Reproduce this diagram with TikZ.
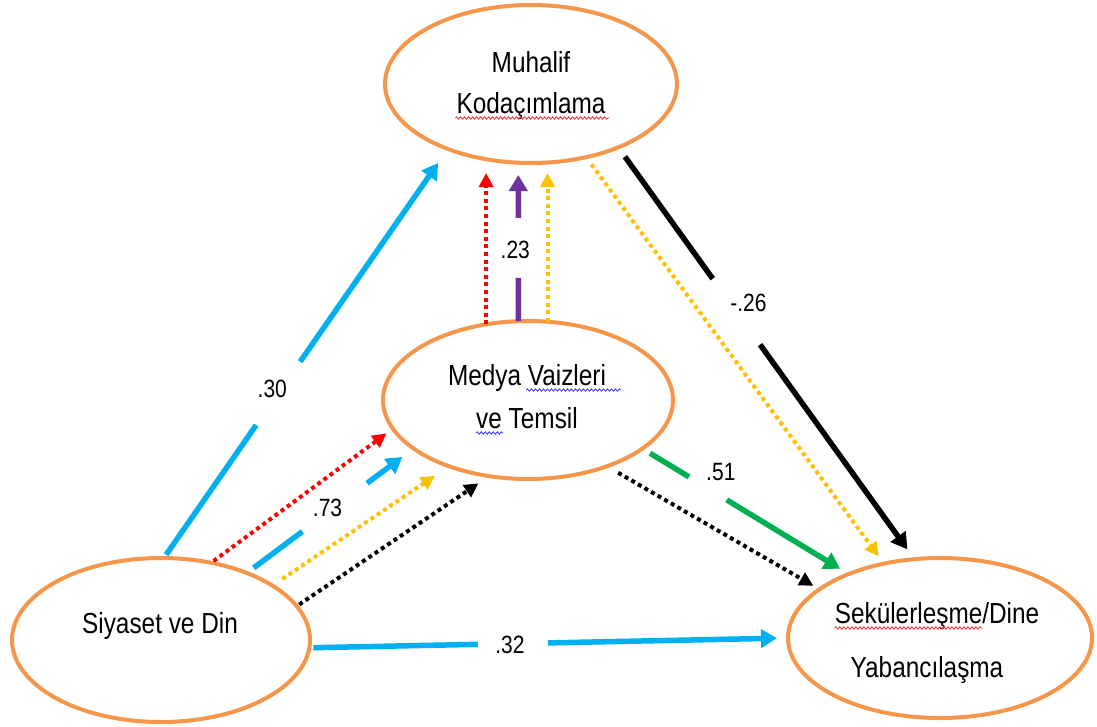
\documentclass[tikz,border=0pt]{standalone}
\usepackage{fontspec}
\setmainfont{Liberation Sans}[FakeStretch=0.84]
\usetikzlibrary{arrows.meta,calc,shapes.geometric,decorations.pathmorphing}
\definecolor{ellorange}{RGB}{245,150,75}
\definecolor{pathblue}{RGB}{0,176,240}
\definecolor{pathred}{RGB}{255,0,0}
\definecolor{pathyellow}{RGB}{255,192,0}
\definecolor{pathgreen}{RGB}{0,176,80}
\definecolor{pathpurple}{RGB}{112,48,160}
\definecolor{spellred}{RGB}{235,40,40}
\definecolor{spellblue}{RGB}{60,60,235}

\begin{document}
\begin{tikzpicture}[x=1pt,y=-1pt,
  construct/.style={draw=ellorange,line width=4pt,ellipse,inner sep=0pt,outer sep=0pt},
  txt/.style={inner sep=0pt,anchor=base,font=\fontsize{29}{34}\selectfont},
  coef/.style={inner sep=0pt,font=\fontsize{25}{30}\selectfont},
  solidpath/.style={line width=5.5pt},
  dotpath/.style={line width=4pt,dash pattern=on 4pt off 3.6pt},
  bigtip/.style={-{Triangle[length=16pt,width=18pt]}},
  smalltip/.style={-{Triangle[length=14pt,width=14pt]}},
  squig/.style={line width=0.8pt,decorate,decoration={snake,segment length=4pt,amplitude=1.2pt}}
]
\fill[white] (0,0) rectangle (1097,726);
\useasboundingbox (0,0) rectangle (1097,726);

% constructs
\node[construct,minimum width=292pt,minimum height=158pt] (muh) at (531,84) {};
\node[construct,minimum width=290pt,minimum height=158pt] (med) at (528,400) {};
\node[construct,minimum width=298pt,minimum height=164pt] (siy) at (161,640) {};
\node[construct,minimum width=304pt,minimum height=160pt] (sek) at (940,638) {};

% construct names
\node[txt] (muh1) at (531,72) {Muhalif};
\node[txt] (muh2) at (531,113) {Kodaçımlama};
\node[txt] (med1) at (527,385) {Medya Vaizleri};
\node[txt] (med2) at (527,428) {ve Temsil};
\node[txt] (siy1) at (160,633) {Siyaset ve Din};
\node[txt] (sek1) at (937,623) {Sekülerleşme/Dine};
\node[txt] (sek2) at (927,677) {Yabancılaşma};

% spelling marks under words
\draw[squig,spellred] ($(muh2.base west)+(-1,5)$) -- ($(muh2.base east)+(4,5)$);
\draw[squig,spellblue] ($(med1.base east)+(-80,5)$) -- ($(med1.base east)+(15,5)$);
\draw[squig,spellblue] ($(med2.base west)+(0,5)$) -- ($(med2.base west)+(27,5)$);
\draw[squig,spellred] ($(sek1.base west)+(0,5)$) -- ($(sek1.base west)+(148,5)$);

% end points on the construct borders
\coordinate (a1) at (siy.88);     \coordinate (b1) at (muh.-142.2);
\coordinate (a2) at (siy.57);     \coordinate (b2) at (med.192.2);
\coordinate (a3) at (siy.38.7);   \coordinate (b3) at (med.203.6);
\coordinate (a4) at (siy.26.2);   \coordinate (b4) at (med.220.6);
\coordinate (a5) at (siy.14.1);   \coordinate (b5) at (med.243.4);
\coordinate (a6) at (med.119.2);  \coordinate (b6) at (a6 |- muh.south);
\coordinate (a7) at (med.97.2);   \coordinate (b7) at (a7 |- muh.south);
\coordinate (a8) at (med.76.4);   \coordinate (b8) at (a8 |- muh.south);
\coordinate (a9) at (muh.-36.5);  \coordinate (b9) at (sek.108.2);
\coordinate (a10) at (muh.-53.9); \coordinate (b10) at (sek.127.9);
\coordinate (a11) at (med.-23.5); \coordinate (b11) at (sek.145);
\coordinate (a12) at (med.-40.1); \coordinate (b12) at (sek.158.1);
\coordinate (a13) at (siy.-3);    \coordinate (b13) at (sek.180);

% Siyaset ve Din -> Muhalif Kodacimlama (.30)
\draw[solidpath,pathblue,shorten <=4pt] (a1) -- ($(a1)!0.325!(b1)$);
\draw[solidpath,pathblue,bigtip,shorten >=17pt] ($(a1)!0.48!(b1)$) -- (b1);
\node[coef] (c1) at ($(a1)!0.403!(b1)+(-6,-4)$) {.30};

% Siyaset ve Din -> Medya Vaizleri (.73)
\draw[solidpath,pathblue,shorten <=8.6pt] (a3) -- ($(a3)!0.333!(b3)$);
\draw[solidpath,pathblue,bigtip,shorten >=14pt] ($(a3)!0.721!(b3)$) -- (b3);
\node[coef] (c3) at ($(a3)!0.496!(b3)+(-2,-3)$) {.73};

% Medya Vaizleri -> Muhalif Kodacimlama (.23)
\draw[solidpath,pathpurple] (a7) -- ($(a7)!0.274!(b7)$);
\draw[solidpath,pathpurple,bigtip,shorten >=12pt] ($(a7)!0.653!(b7)$) -- (b7);
\node[coef] (c7) at ($(a7)!0.451!(b7)+(-3,0)$) {.23};

% Muhalif Kodacimlama -> Sekulerlesme (-.26)
\draw[solidpath,black,shorten <=11.5pt] (a9) -- ($(a9)!0.319!(b9)$);
\draw[solidpath,black,bigtip,shorten >=12pt] ($(a9)!0.479!(b9)$) -- (b9);
\node[coef] (c9) at ($(a9)!0.399!(b9)+(12,-9)$) {-.26};

% Medya Vaizleri -> Sekulerlesme (.51)
\draw[solidpath,pathgreen,shorten <=9pt] (a11) -- ($(a11)!0.226!(b11)$);
\draw[solidpath,pathgreen,bigtip,shorten >=10pt] ($(a11)!0.409!(b11)$) -- (b11);
\node[coef] (c11) at ($(a11)!0.327!(b11)+(11,-18)$) {.51};

% Siyaset ve Din -> Sekulerlesme (.32)
\draw[solidpath,pathblue,shorten <=4pt] (a13) -- ($(a13)!0.352!(b13)$);
\draw[solidpath,pathblue,bigtip,shorten >=11pt] ($(a13)!0.4985!(b13)$) -- (b13);
\node[coef] (c13) at ($(a13)!0.419!(b13)+(0,1)$) {.32};

% indirect (dotted) paths
\draw[dotpath,pathred,smalltip,shorten <=3pt,shorten >=8pt] (a2) -- (b2);
\draw[dotpath,pathyellow,smalltip,shorten <=12pt,shorten >=17pt] (a4) -- (b4);
\draw[dotpath,black,smalltip,shorten <=3pt,shorten >=13pt] (a5) -- (b5);
\draw[dotpath,pathred,smalltip,shorten >=10pt] (a6) -- (b6);
\draw[dotpath,pathyellow,smalltip,shorten >=10pt] (a8) -- (b8);
\draw[dotpath,pathyellow,smalltip,shorten <=9pt,shorten >=9pt] (a10) -- (b10);
\draw[dotpath,black,smalltip,shorten <=13pt,shorten >=7pt] (a12) -- (b12);
\end{tikzpicture}
\end{document}
